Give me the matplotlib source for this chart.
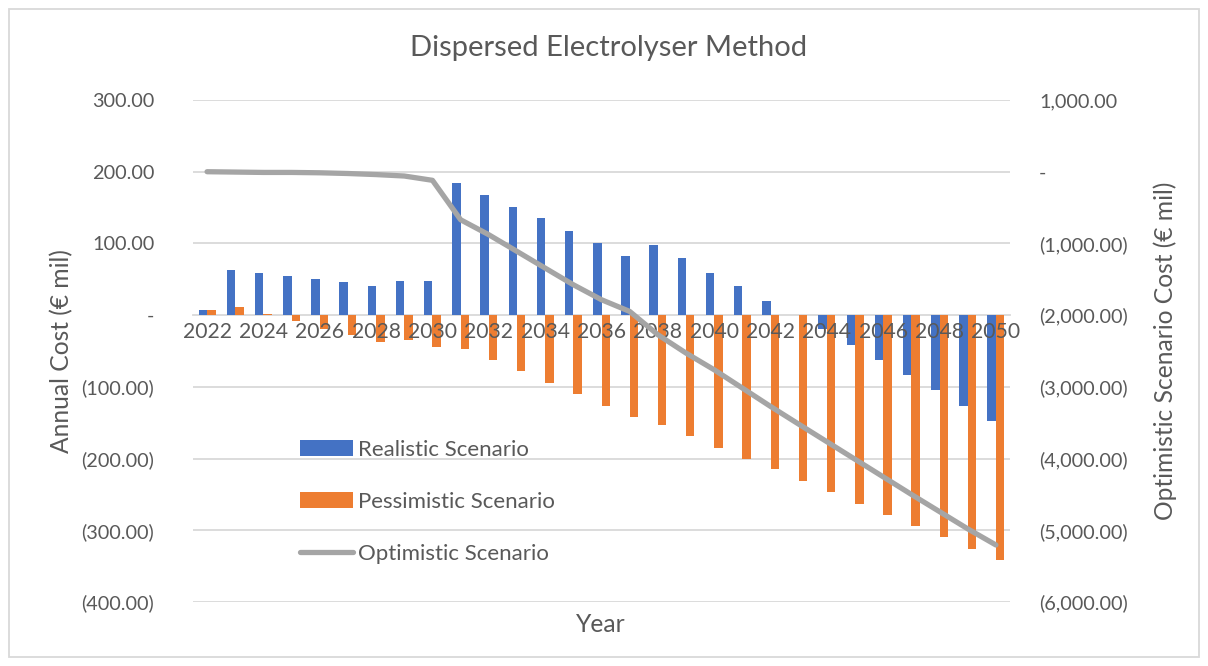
import matplotlib
matplotlib.use("Agg")
import matplotlib.pyplot as plt
import numpy as np
from matplotlib.ticker import FuncFormatter, FixedLocator
from matplotlib.patches import Rectangle

years = list(range(2022, 2051))
realistic = [7, 63, 59, 55, 50, 46, 41, 47, 48, 184, 168, 151, 135, 117, 100, 82, 98, 79,
             59, 40, 20, 0, -20, -41, -62, -83, -104, -127, -148]
pessimistic = [7, 11, 2, -8, -19, -28, -38, -34, -44, -47, -62, -78, -94, -110, -126, -142,
               -153, -169, -185, -200, -215, -231, -247, -263, -279, -294, -310, -326, -342]
optimistic = [0, -5, -10, -10, -15, -25, -40, -60, -120, -670, -879, -1111, -1344, -1576,
              -1785, -1948, -2273, -2529, -2762, -3017, -3273, -3520, -3765, -4010, -4255,
              -4500, -4740, -4980, -5205]
left_ticks = [-400, -300, -200, -100, 0, 100, 200, 300]
right_ticks = [-6000, -5000, -4000, -3000, -2000, -1000, 0, 1000]

FONT = "Lato"
TXT = "#595959"
BLUE = "#4472C4"
ORANGE = "#ED7D31"
GREY = "#A5A5A5"
GRID = "#D9D9D9"
FS_Y = 14.3
FS_X = 15.2
FS_LAB = 17.7
FS_LEG = 16
FS_TITLE = 21

W, H = 1208, 666
plt.rcParams['font.family'] = [FONT, 'DejaVu Sans']
fig = plt.figure(figsize=(W / 100, H / 100), dpi=100)

ax = fig.add_axes([193 / W, 1 - 602 / H, (1010 - 193) / W, (602 - 100) / H])
ax2 = ax.twinx()

x = np.arange(len(years))
bw = 0.3
ax.bar(x - bw / 2, realistic, bw, color=BLUE, label="Realistic Scenario", zorder=2)
ax.bar(x + bw / 2, pessimistic, bw, color=ORANGE, label="Pessimistic Scenario", zorder=2)
ax2.plot(x, optimistic, color=GREY, lw=3.8, solid_capstyle='round', label="Optimistic Scenario")

ax.set_xlim(-0.5, len(years) - 0.5)
ax.set_ylim(-400, 300)
ax2.set_ylim(-6000, 1000)


def fmt_num(v, pos):
    if abs(v) < 1e-9:
        return "-"
    s = f"{abs(v):,.2f}"
    return f"({s})" if v < 0 else s


ax.yaxis.set_major_locator(FixedLocator(left_ticks))
ax2.yaxis.set_major_locator(FixedLocator(right_ticks))
ax.yaxis.set_major_formatter(FuncFormatter(fmt_num))
ax2.yaxis.set_major_formatter(FuncFormatter(fmt_num))

for t in left_ticks:
    if t != 0:
        ax.axhline(t, color=GRID, lw=1.3, zorder=0.5)

for a in (ax, ax2):
    for s in ('top', 'left', 'right', 'bottom'):
        a.spines[s].set_visible(False)

ax.set_axisbelow(False)
ax.xaxis.set_zorder(3)
ax.spines['bottom'].set_visible(True)
ax.spines['bottom'].set_position(('data', 0))
ax.spines['bottom'].set_color(GRID)
ax.spines['bottom'].set_linewidth(1.3)
ax.spines['bottom'].set_zorder(0.6)

ax.set_xticks(x[::2])
ax.set_xticklabels([str(y) for y in years[::2]])
ax.tick_params(axis='x', length=0, pad=5, labelsize=FS_X, labelcolor=TXT)
ax.tick_params(axis='y', length=0, pad=28, labelsize=FS_Y, labelcolor=TXT)
ax2.tick_params(axis='y', length=0, pad=21, labelsize=FS_Y, labelcolor=TXT)

fig.text(609 / W, 1 - 48 / H, "Dispersed Electrolyser Method", ha='center', va='center',
         fontsize=FS_TITLE, color=TXT)
fig.text(601 / W, 1 - 624 / H, "Year", ha='center', va='center', fontsize=FS_LAB, color=TXT)
fig.text(62 / W, 1 - 351 / H, "Annual Cost (€ mil)", ha='center', va='center', rotation=90,
         fontsize=FS_LAB, color=TXT)
fig.text(1165 / W, 1 - 351 / H, "Optimistic Scenario Cost (€ mil)", ha='center', va='center',
         rotation=90, fontsize=FS_LAB, color=TXT)

h1, l1 = ax.get_legend_handles_labels()
h2, l2 = ax2.get_legend_handles_labels()
leg = fig.legend(h1 + h2, l1 + l2, loc='upper left', bbox_to_anchor=(300 / W, 1 - 440 / H),
                 frameon=False, fontsize=FS_LEG, labelcolor=TXT, handlelength=2.39,
                 handletextpad=0.23, labelspacing=1.44, borderpad=0, borderaxespad=0)

fig.patches.append(Rectangle((9 / W, 9 / H), 1 - 18 / W, 1 - 18 / H, transform=fig.transFigure,
                             fill=False, edgecolor=GRID, lw=1.3))

fig.savefig("out.png", dpi=100)
